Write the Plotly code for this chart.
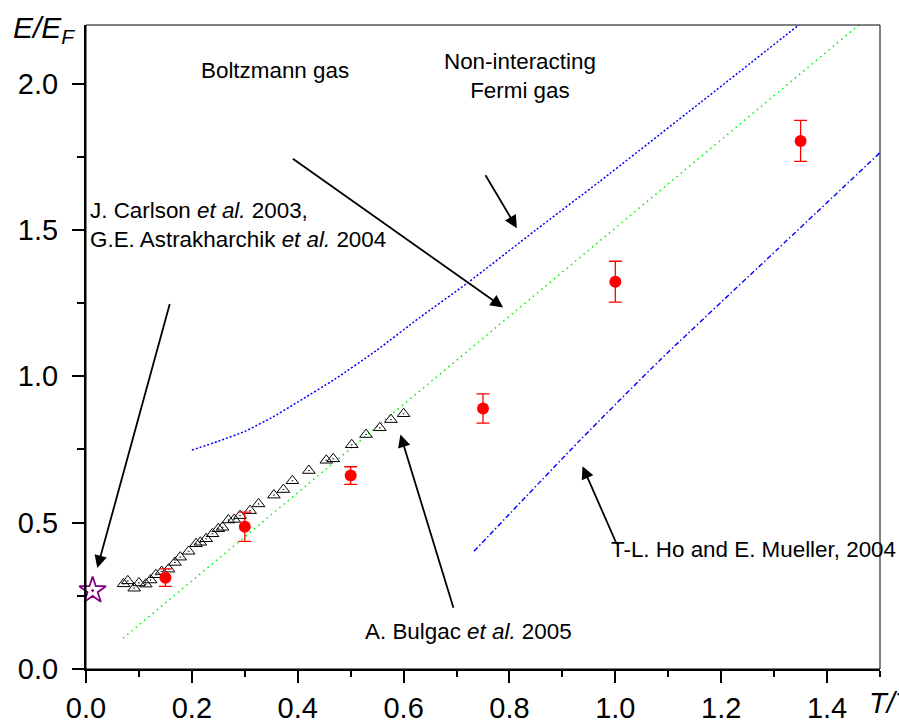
import plotly.graph_objects as go

# Bulgac et al. 2005 lattice results (open triangles)
bulgac_t = [0.071, 0.079, 0.091, 0.100, 0.113, 0.122, 0.132, 0.143, 0.156, 0.168,
            0.178, 0.194, 0.208, 0.216, 0.227, 0.239, 0.250, 0.258, 0.269, 0.280,
            0.291, 0.310, 0.326, 0.355, 0.373, 0.390, 0.421, 0.454, 0.467, 0.502,
            0.529, 0.555, 0.576, 0.600]
bulgac_e = [0.291, 0.301, 0.276, 0.294, 0.290, 0.304, 0.322, 0.333, 0.341, 0.364,
            0.382, 0.402, 0.428, 0.433, 0.445, 0.462, 0.479, 0.484, 0.509, 0.511,
            0.524, 0.541, 0.564, 0.594, 0.613, 0.643, 0.678, 0.713, 0.718, 0.766,
            0.801, 0.824, 0.852, 0.872]

# Red points with error bars
red_t = [0.15, 0.30, 0.50, 0.75, 1.00, 1.35]
red_e = [0.312, 0.486, 0.661, 0.890, 1.323, 1.804]
red_err = [0.03, 0.05, 0.03, 0.05, 0.07, 0.07]

# Non-interacting Fermi gas (blue dotted)
fermi_t = [0.20, 0.25, 0.30, 0.35, 0.40, 0.47, 0.55, 0.63, 0.72, 0.85, 0.97, 1.16, 1.35]
fermi_e = [0.748, 0.778, 0.812, 0.858, 0.912, 0.990, 1.090, 1.200, 1.318, 1.500,
           1.665, 1.934, 2.205]

# Boltzmann gas (green dotted)
boltz_t = [0.07, 1.47]
boltz_e = [0.105, 2.215]

# Ho and Mueller 2004 (blue dash-dot)
ho_t = [0.733, 0.933, 1.086, 1.307, 1.50]
ho_e = [0.402, 0.781, 1.058, 1.435, 1.764]

# Carlson / Astrakharchik T=0 value (star)
qmc_t = [0.0125]
qmc_e = [0.268]

FONT = "Liberation Sans, Arial, sans-serif"

fig = go.Figure()

fig.add_trace(go.Scatter(x=fermi_t, y=fermi_e, mode="lines",
                         line=dict(color="#0000ff", width=1.5, dash="2px,2px",
                                   shape="spline", smoothing=0.6),
                         showlegend=False))
fig.add_trace(go.Scatter(x=boltz_t, y=boltz_e, mode="lines",
                         line=dict(color="#00ee00", width=1.5, dash="1.5px,4px"),
                         showlegend=False))
fig.add_trace(go.Scatter(x=ho_t, y=ho_e, mode="lines",
                         line=dict(color="#0000ff", width=1.4, dash="5px,2.5px,1.5px,2.5px",
                                   shape="spline", smoothing=0.6),
                         showlegend=False))
fig.add_trace(go.Scatter(x=bulgac_t, y=bulgac_e, mode="markers",
                         marker=dict(symbol="triangle-up-open-dot", size=11, color="black",
                                     line=dict(width=1, color="black")),
                         showlegend=False))
fig.add_trace(go.Scatter(x=red_t, y=red_e, mode="markers",
                         marker=dict(symbol="circle", size=12, color="#ff0000"),
                         error_y=dict(type="data", array=red_err, color="#ff0000",
                                      thickness=1.3, width=6.5),
                         showlegend=False))
fig.add_trace(go.Scatter(x=qmc_t, y=qmc_e, mode="markers",
                         marker=dict(symbol="star-open-dot", size=20, color="#800080",
                                     line=dict(width=1.8, color="#800080")),
                         showlegend=False, cliponaxis=False))

# Labels and arrows
text_font = dict(family=FONT, size=22.4, color="black")
annotations = [
    dict(x=0.357, y=2.045, text="Boltzmann gas", showarrow=False,
         xanchor="center", yanchor="middle"),
    dict(x=0.819, y=2.027, text="Non-interacting<br>Fermi gas", showarrow=False,
         xanchor="center", yanchor="middle", align="center"),
    dict(x=0.003, y=1.517,
         text="J. Carlson <i>et al.</i> 2003,<br>G.E. Astrakharchik <i>et al.</i> 2004",
         showarrow=False, xanchor="left", yanchor="middle", align="left"),
    dict(x=0.722, y=0.128, text="A. Bulgac <i>et al.</i> 2005", showarrow=False,
         xanchor="center", yanchor="middle"),
    dict(x=0.988, y=0.408, text="T-L. Ho and E. Mueller, 2004", showarrow=False,
         xanchor="left", yanchor="middle"),
]
for a in annotations:
    a.update(xref="x", yref="y", font=text_font)

# arrows: (tail_t, tail_e, tip_t, tip_e)
arrows = [
    (0.159, 1.252, 0.0214, 0.345),
    (0.388, 1.747, 0.788, 1.235),
    (0.753, 1.692, 0.814, 1.506),
    (0.695, 0.204, 0.594, 0.801),
    (1.004, 0.421, 0.938, 0.693),
]
for tx, ty, hx, hy in arrows:
    annotations.append(dict(x=hx, y=hy, ax=tx, ay=ty, xref="x", yref="y",
                            axref="x", ayref="y", text="", showarrow=True,
                            arrowhead=2, arrowsize=1.4, arrowwidth=1.8,
                            arrowcolor="black", standoff=0, startstandoff=0))

# Axis titles
annotations.append(dict(x=-0.0945, y=0.993, xref="paper", yref="paper",
                        text="<i>E/E<sub>F</sub></i>", showarrow=False,
                        xanchor="left", yanchor="middle",
                        font=dict(family=FONT, size=30, color="black")))
annotations.append(dict(x=0.983, y=-0.056, xref="paper", yref="paper",
                        text="<i>T/T<sub>F</sub></i>", showarrow=False,
                        xanchor="left", yanchor="middle",
                        font=dict(family=FONT, size=29, color="black")))

fig.update_layout(
    width=899, height=726,
    margin=dict(l=86, r=19, t=25, b=57),
    plot_bgcolor="white", paper_bgcolor="white",
    font=dict(family=FONT, size=29, color="black"),
    annotations=annotations,
    shapes=[dict(type="rect", xref="paper", yref="paper", x0=0, x1=1, y0=0, y1=1,
                 line=dict(color="black", width=1), layer="above")],
)
fig.update_xaxes(range=[0, 1.5], dtick=0.2, tick0=0, tickformat=".1f",
                 automargin=False, ticklabelstandoff=0,
                 showgrid=False, zeroline=False, showline=True, linewidth=2,
                 linecolor="black", ticks="outside", ticklen=12, tickwidth=2,
                 tickcolor="black",
                 minor=dict(ticks="outside", ticklen=6, tickwidth=2, dtick=0.1,
                            tickcolor="black"))
fig.update_yaxes(range=[0, 2.2], dtick=0.5, tick0=0, tickformat=".1f",
                 automargin=False, ticklabelstandoff=8,
                 showgrid=False, zeroline=False, showline=True, linewidth=2,
                 linecolor="black", ticks="outside", ticklen=12, tickwidth=2,
                 tickcolor="black",
                 minor=dict(ticks="outside", ticklen=7, tickwidth=2, dtick=0.25,
                            tickcolor="black"))

fig.write_html("out.html")
